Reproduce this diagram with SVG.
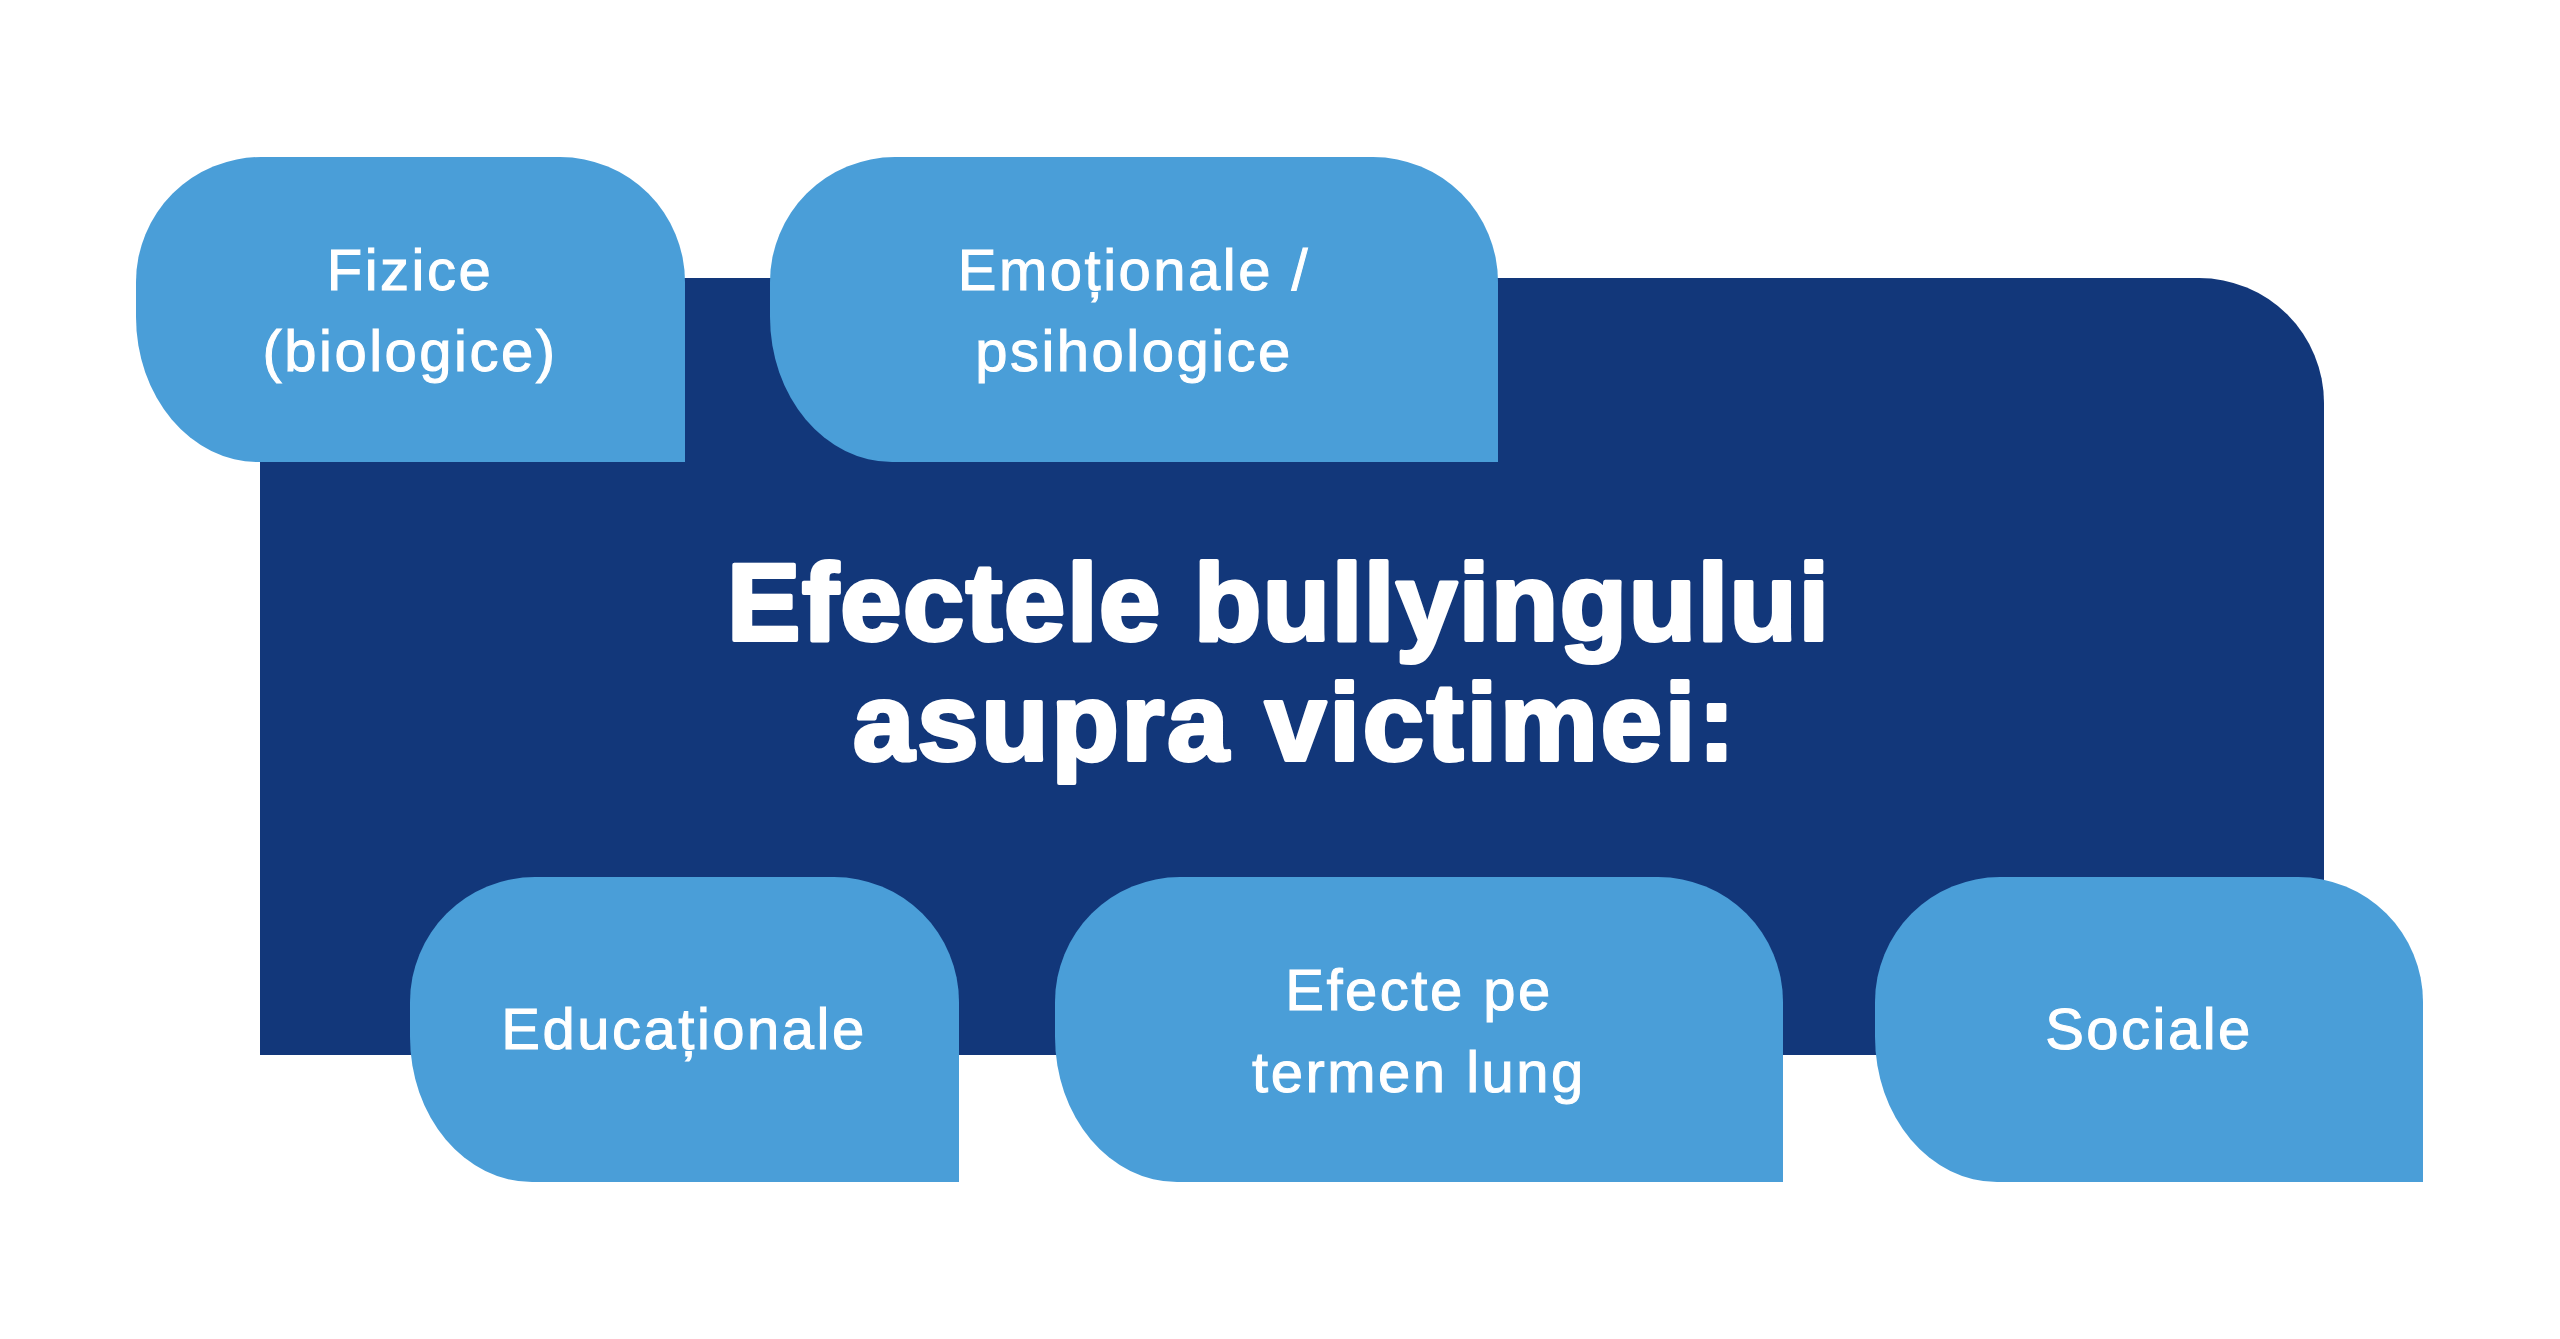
<svg xmlns="http://www.w3.org/2000/svg" width="2560" height="1339" viewBox="0 0 2560 1339">
  <style>
    .bg { fill: #ffffff; }
    .main { fill: #12377A; }
    .node { fill: #4A9ED8; }
    .lbl { fill: #ffffff; stroke: #ffffff; stroke-width: 1px; font-family: "Liberation Sans", Arial, sans-serif; font-size: 58px; letter-spacing: 2.5px; text-anchor: middle; }
    .title { fill: #ffffff; stroke: #ffffff; stroke-width: 4px; stroke-linejoin: round; font-family: "Liberation Sans", Arial, sans-serif; font-size: 110px; font-weight: bold; text-anchor: middle; }
  </style>
  <rect class="bg" x="0" y="0" width="2560" height="1339"/>
  <g id="center">
    <path class="main" d="M260,278 H2199 A125,125 0 0 1 2324,403 V1055 H260 Z"/>
    <text class="title" x="1278" y="640" textLength="1102" lengthAdjust="spacing">Efectele bullyingului</text>
    <text class="title" x="1294" y="760" textLength="882" lengthAdjust="spacing">asupra victimei:</text>
  </g>
  <g id="connectors"></g>
  <g id="node-fizice">
    <path class="node" d="M261,157 H560 A125,125 0 0 1 685,282 V462 H258 A122,145 0 0 1 136,317 V282 A125,125 0 0 1 261,157 Z"/>
    <text class="lbl" x="410" y="290">Fizice</text>
    <text class="lbl" x="410" y="371">(biologice)</text>
  </g>
  <g id="node-emotionale">
    <path class="node" d="M895,157 H1373 A125,125 0 0 1 1498,282 V462 H892 A122,145 0 0 1 770,317 V282 A125,125 0 0 1 895,157 Z"/>
    <text class="lbl" x="1134" y="290">Emoționale /</text>
    <text class="lbl" x="1134" y="371">psihologice</text>
  </g>
  <g id="node-educationale">
    <path class="node" d="M535,877 H834 A125,125 0 0 1 959,1002 V1182 H532 A122,145 0 0 1 410,1037 V1002 A125,125 0 0 1 535,877 Z"/>
    <text class="lbl" x="684" y="1049">Educaționale</text>
  </g>
  <g id="node-termen-lung">
    <path class="node" d="M1180,877 H1658 A125,125 0 0 1 1783,1002 V1182 H1177 A122,145 0 0 1 1055,1037 V1002 A125,125 0 0 1 1180,877 Z"/>
    <text class="lbl" x="1419" y="1010">Efecte pe</text>
    <text class="lbl" x="1419" y="1092">termen lung</text>
  </g>
  <g id="node-sociale">
    <path class="node" d="M2000,877 H2298 A125,125 0 0 1 2423,1002 V1182 H1997 A122,145 0 0 1 1875,1037 V1002 A125,125 0 0 1 2000,877 Z"/>
    <text class="lbl" x="2149" y="1049">Sociale</text>
  </g>
</svg>
